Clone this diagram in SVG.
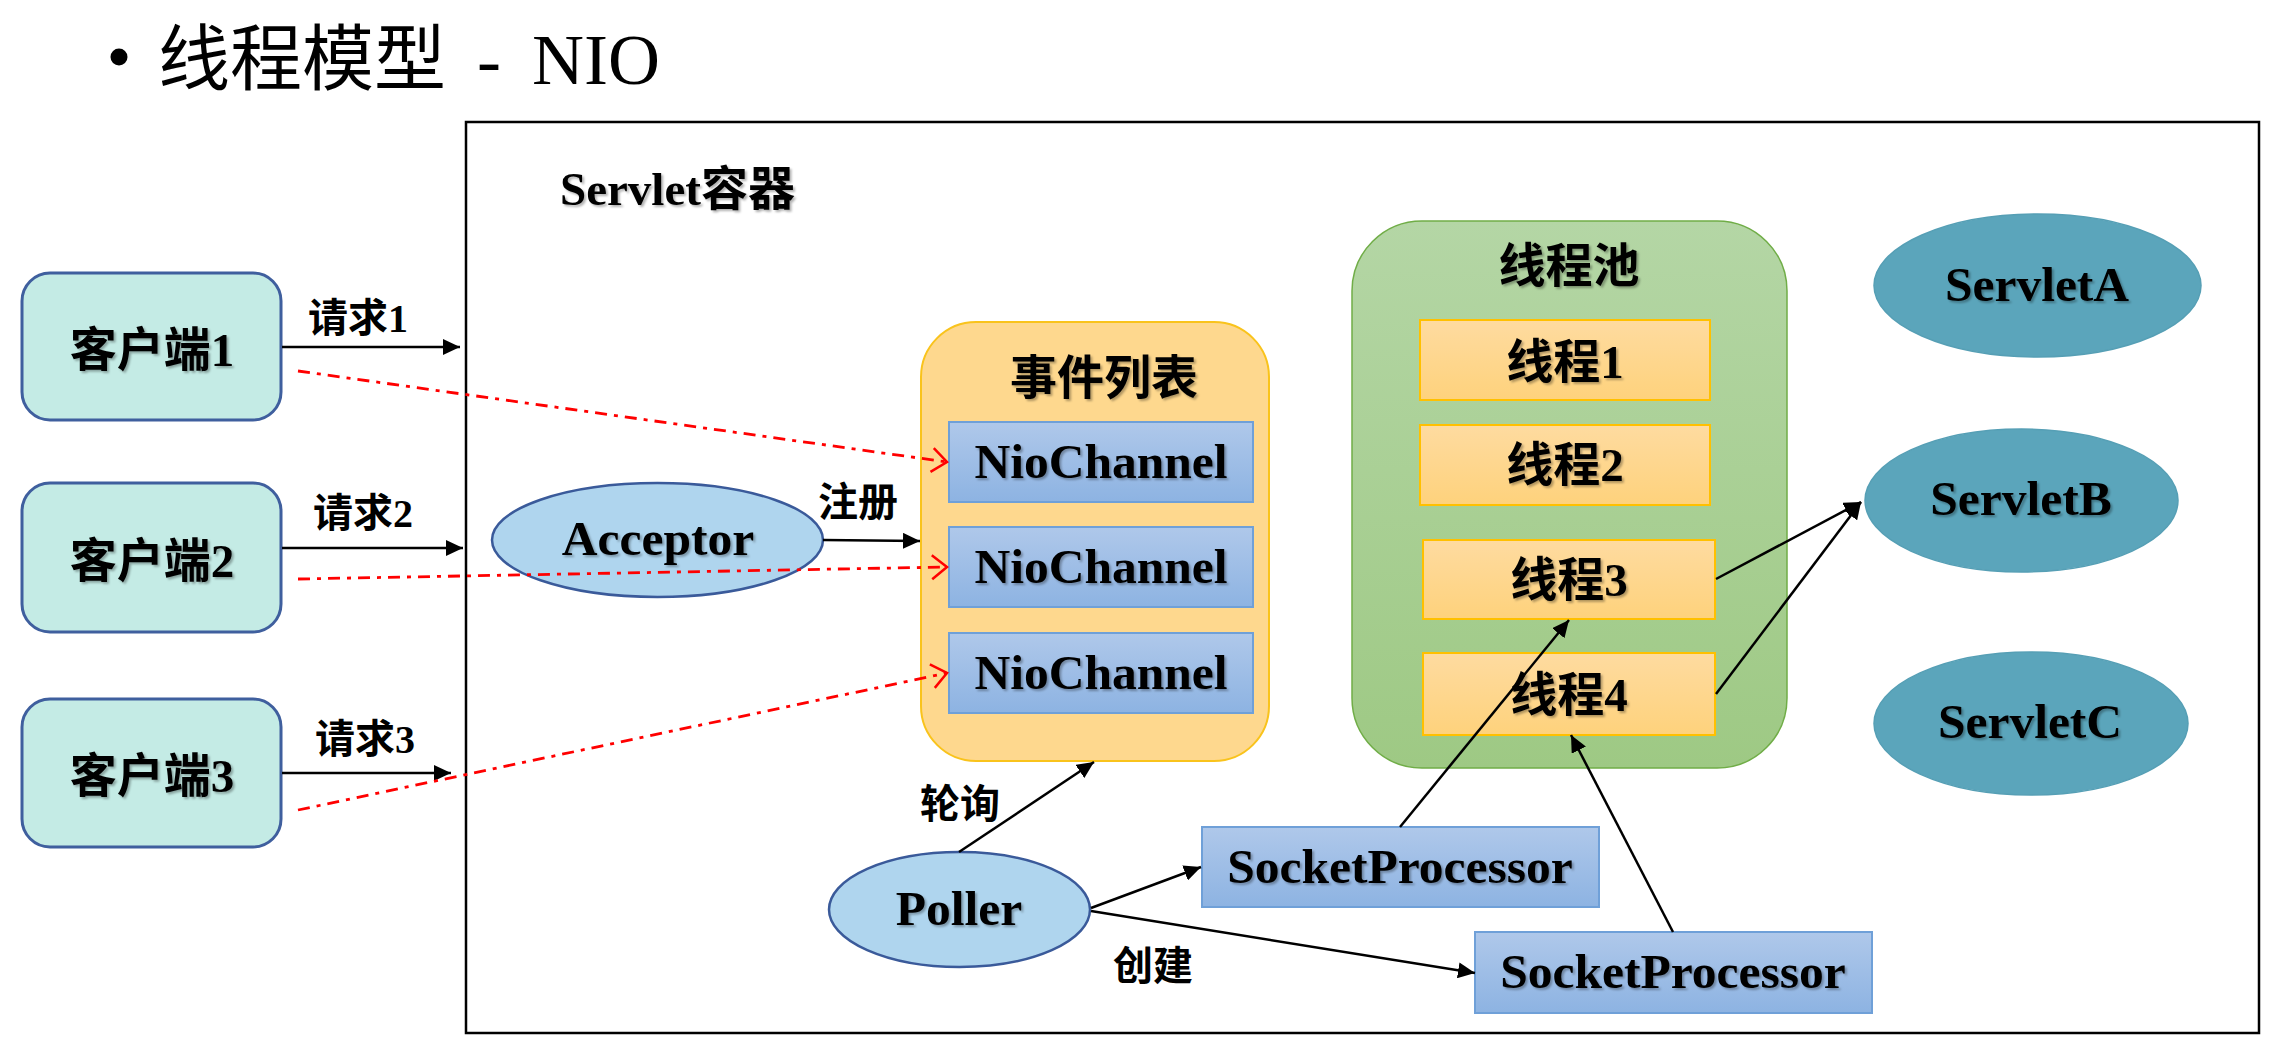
<svg xmlns="http://www.w3.org/2000/svg" width="2284" height="1044" viewBox="0 0 2284 1044">
<defs>
  <style>
    .t{font-family:"Liberation Serif","Noto Sans CJK SC",serif;font-weight:bold;fill:#000;filter:url(#sh)}
    .big{font-size:47px}
    .lat{font-size:49.5px}
    .lbl{font-size:40px;font-family:"Liberation Serif","Noto Sans CJK SC",serif;font-weight:bold;fill:#000}
    .mid{text-anchor:middle}
    .client{fill:#c4ebe5;stroke:#3f5f9e;stroke-width:3}
    .oval{fill:#afd5ee;stroke:#3a5a9a;stroke-width:2.5}
    .blue{fill:url(#gBlue);stroke:#6fa0d8;stroke-width:2}
    .thr{fill:url(#gThr);stroke:#ffc000;stroke-width:2}
    .srv{fill:#5ba5bb;stroke:#569fb5;stroke-width:1.5}
    .arr{stroke:#000;stroke-width:2.5;fill:none;marker-end:url(#ah)}
    .red{stroke:#ff0000;stroke-width:2.8;fill:none;stroke-dasharray:12 7 4 7;marker-end:url(#rh)}
  </style>
  <linearGradient id="gBlue" x1="0" y1="0" x2="0" y2="1">
    <stop offset="0" stop-color="#afc8ea"/>
    <stop offset="1" stop-color="#8db3e2"/>
  </linearGradient>
  <linearGradient id="gThr" x1="0" y1="0" x2="0" y2="1">
    <stop offset="0" stop-color="#fedba0"/>
    <stop offset="1" stop-color="#fed27c"/>
  </linearGradient>
  <linearGradient id="gPool" x1="0" y1="0" x2="0" y2="1">
    <stop offset="0" stop-color="#b4d6a5"/>
    <stop offset="1" stop-color="#9ec984"/>
  </linearGradient>
  <filter id="sh" x="-5%" y="-20%" width="115%" height="150%">
    <feDropShadow dx="2" dy="2" stdDeviation="1.2" flood-color="#000" flood-opacity="0.3"/>
  </filter>
  <marker id="ah" markerUnits="userSpaceOnUse" markerWidth="18" markerHeight="16" refX="17" refY="8" orient="auto">
    <path d="M0,0 L17,8 L0,16 Z" fill="#000"/>
  </marker>
  <marker id="rh" markerUnits="userSpaceOnUse" markerWidth="20" markerHeight="28" refX="17" refY="14" orient="auto">
    <path d="M2,2 L17,14 L2,26" fill="none" stroke="#ff0000" stroke-width="2.5"/>
  </marker>
</defs>
<rect width="2284" height="1044" fill="#fff"/>

<g id="title">
  <circle cx="119" cy="57" r="8.5" fill="#000"/>
  <text x="158" y="84" font-family="Liberation Serif,'Noto Sans CJK SC',serif" font-size="72" word-spacing="13" fill="#000">线程模型 - NIO</text>
</g>

<g id="container">
  <rect x="466" y="122" width="1793" height="911" fill="none" stroke="#000" stroke-width="2.5"/>
  <text class="t big" x="560" y="205">Servlet容器</text>
</g>

<g id="client1">
  <rect class="client" x="22" y="273" width="259" height="147" rx="28"/>
  <text class="t big mid" x="152" y="366">客户端1</text>
</g>
<g id="client2">
  <rect class="client" x="22" y="483" width="259" height="149" rx="28"/>
  <text class="t big mid" x="152" y="577">客户端2</text>
</g>
<g id="client3">
  <rect class="client" x="22" y="699" width="259" height="148" rx="28"/>
  <text class="t big mid" x="152" y="792">客户端3</text>
</g>

<g id="acceptor">
  <ellipse class="oval" cx="657.5" cy="540" rx="165.5" ry="57"/>
  <text class="t lat mid" x="658" y="555">Acceptor</text>
</g>

<g id="eventlist">
  <rect x="921" y="322" width="348" height="439" rx="55" fill="#fed88e" stroke="#f9c31c" stroke-width="2"/>
  <text class="t big mid" x="1104" y="394">事件列表</text>
</g>
<g id="niochannel1">
  <rect class="blue" x="949" y="422" width="304" height="80"/>
  <text class="t lat mid" x="1101" y="478">NioChannel</text>
</g>
<g id="niochannel2">
  <rect class="blue" x="949" y="527" width="304" height="80"/>
  <text class="t lat mid" x="1101" y="583">NioChannel</text>
</g>
<g id="niochannel3">
  <rect class="blue" x="949" y="633" width="304" height="80"/>
  <text class="t lat mid" x="1101" y="689">NioChannel</text>
</g>

<g id="threadpool">
  <rect x="1352" y="221" width="435" height="547" rx="70" fill="url(#gPool)" stroke="#70ad47" stroke-width="1.5"/>
  <text class="t big mid" x="1569" y="282">线程池</text>
</g>
<g id="thread1">
  <rect class="thr" x="1420" y="320" width="290" height="80"/>
  <text class="t big mid" x="1565" y="378">线程1</text>
</g>
<g id="thread2">
  <rect class="thr" x="1420" y="425" width="290" height="80"/>
  <text class="t big mid" x="1565" y="481">线程2</text>
</g>
<g id="thread3">
  <rect class="thr" x="1423" y="540" width="292" height="79"/>
  <text class="t big mid" x="1569" y="596">线程3</text>
</g>
<g id="thread4">
  <rect class="thr" x="1423" y="653" width="292" height="82"/>
  <text class="t big mid" x="1569" y="711">线程4</text>
</g>

<g id="servletA">
  <ellipse class="srv" cx="2037.5" cy="285.5" rx="163.5" ry="71.5"/>
  <text class="t lat mid" x="2037" y="301">ServletA</text>
</g>
<g id="servletB">
  <ellipse class="srv" cx="2021.5" cy="500.5" rx="156.5" ry="71.5"/>
  <text class="t lat mid" x="2021" y="515">ServletB</text>
</g>
<g id="servletC">
  <ellipse class="srv" cx="2031" cy="723.5" rx="157" ry="71.5"/>
  <text class="t lat mid" x="2030" y="738">ServletC</text>
</g>

<g id="poller">
  <ellipse class="oval" cx="959.5" cy="909.5" rx="130.5" ry="57.5"/>
  <text class="t lat mid" x="959" y="925">Poller</text>
</g>
<g id="socketprocessor1">
  <rect class="blue" x="1202" y="827" width="397" height="80"/>
  <text class="t lat mid" x="1400" y="883">SocketProcessor</text>
</g>
<g id="socketprocessor2">
  <rect class="blue" x="1475" y="932" width="397" height="81"/>
  <text class="t lat mid" x="1673" y="988">SocketProcessor</text>
</g>

<g id="connectors">
  <line class="arr" x1="282" y1="347" x2="460" y2="347"/>
  <line class="arr" x1="282" y1="548" x2="463" y2="548"/>
  <line class="arr" x1="282" y1="773" x2="451" y2="773"/>
  <line class="red" x1="298" y1="371" x2="947" y2="462"/>
  <line class="red" x1="298" y1="579" x2="947" y2="567"/>
  <line class="red" x1="298" y1="810" x2="947" y2="673"/>
  <line class="arr" x1="823" y1="540" x2="920" y2="541"/>
  <line class="arr" x1="959" y1="852" x2="1094" y2="762"/>
  <line class="arr" x1="1091" y1="908" x2="1201" y2="867"/>
  <line class="arr" x1="1091" y1="911" x2="1475" y2="973"/>
  <line class="arr" x1="1400" y1="827" x2="1569" y2="620"/>
  <line class="arr" x1="1673" y1="932" x2="1571" y2="735"/>
  <line class="arr" x1="1716" y1="579" x2="1861" y2="502"/>
  <line class="arr" x1="1716" y1="694" x2="1861" y2="502"/>
  <text class="lbl" x="308" y="332">请求1</text>
  <text class="lbl" x="313" y="527">请求2</text>
  <text class="lbl" x="315" y="753">请求3</text>
  <text class="lbl" x="818" y="516">注册</text>
  <text class="lbl" x="920" y="818">轮询</text>
  <text class="lbl" x="1113" y="980">创建</text>
</g>
</svg>
